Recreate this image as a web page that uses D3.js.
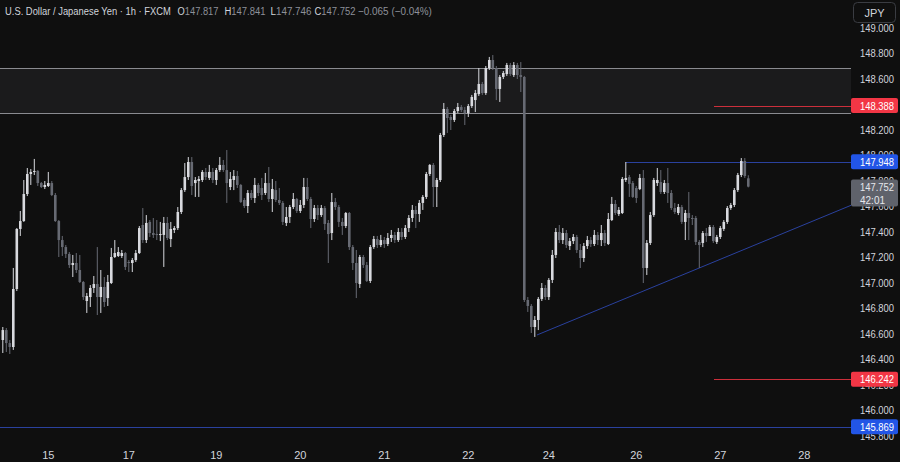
<!DOCTYPE html>
<html>
<head>
<meta charset="utf-8">
<script src="https://cdn.jsdelivr.net/npm/d3@7"></script>
<style>
  html, body { margin: 0; padding: 0; background: #0f0f0f; }
  svg { display: block; font-family: "Liberation Sans", Arial, sans-serif; }
</style>
</head>
<body>
<div id="chart"></div>
<script>
// hourly USD/JPY candles (index 0 = first bar on the left)
const open = [
  146.549,146.627,146.525,146.494,146.949,147.420,147.482,147.694,147.851,147.867,
  147.875,147.780,147.749,147.757,147.780,147.686,147.482,147.333,147.278,147.224,
  147.137,147.153,147.098,147.004,146.855,146.886,146.957,146.988,146.886,146.965,
  146.878,146.996,147.200,147.208,147.208,147.231,147.161,147.153,147.176,147.231,
  147.451,147.333,147.475,147.388,147.380,147.373,147.373,147.467,147.341,147.412,
  147.427,147.553,147.725,147.827,147.945,147.780,147.796,147.804,147.867,147.820,
  147.867,147.804,147.882,147.922,147.882,147.749,147.804,147.835,147.765,147.647,
  147.600,147.702,147.663,147.765,147.741,147.702,147.780,147.655,147.725,147.647,
  147.624,147.467,147.514,147.592,147.655,147.561,147.608,147.749,147.655,147.498,
  147.584,147.529,147.584,147.467,147.388,147.631,147.592,147.475,147.443,147.545,
  147.278,147.153,146.988,147.200,147.137,147.012,147.278,147.341,147.294,147.333,
  147.302,147.349,147.373,147.333,147.396,147.357,147.427,147.506,147.569,147.537,
  147.624,147.671,147.851,147.922,147.749,147.804,148.157,148.361,148.298,148.275,
  148.345,148.376,148.353,148.329,148.384,148.431,148.478,148.557,148.486,148.682,
  148.745,148.682,148.518,148.612,148.635,148.706,148.627,148.706,148.627,148.612,
  146.863,146.816,146.651,146.706,146.871,146.957,146.886,147.020,147.216,147.396,
  147.333,147.388,147.286,147.325,147.357,147.255,147.192,147.286,147.333,147.302,
  147.373,147.333,147.388,147.302,147.490,147.616,147.537,147.545,147.804,147.827,
  147.780,147.741,147.733,147.820,147.114,147.310,147.529,147.780,147.788,147.710,
  147.780,147.702,147.584,147.545,147.592,147.475,147.545,147.506,147.506,147.318,
  147.310,147.388,147.365,147.435,147.318,147.357,147.420,147.475,147.584,147.608,
  147.725,147.843,147.953,147.817
];
const high = [
  146.651,146.643,146.549,147.114,147.427,147.561,147.804,147.898,147.890,147.969,
  147.882,147.788,147.796,147.867,147.796,147.702,147.490,147.365,147.294,147.239,
  147.216,147.231,147.216,147.012,146.918,146.980,147.051,147.278,147.098,147.043,
  147.059,147.271,147.333,147.278,147.255,147.239,147.176,147.192,147.255,147.443,
  147.584,147.529,147.490,147.506,147.490,147.475,147.514,147.514,147.475,147.443,
  147.592,147.741,147.937,147.984,147.984,147.827,147.835,147.882,147.898,147.922,
  147.898,147.898,147.984,147.961,148.039,147.867,147.882,147.875,147.773,147.663,
  147.725,147.725,147.820,147.780,147.820,147.859,147.906,147.812,147.796,147.741,
  147.639,147.592,147.608,147.702,147.663,147.647,147.820,147.820,147.671,147.608,
  147.608,147.608,147.600,147.490,147.702,147.663,147.608,147.506,147.553,147.553,
  147.294,147.255,147.216,147.216,147.161,147.294,147.365,147.365,147.373,147.357,
  147.388,147.412,147.396,147.427,147.427,147.451,147.529,147.608,147.600,147.647,
  147.686,147.867,147.929,147.937,147.820,148.173,148.408,148.376,148.314,148.361,
  148.408,148.392,148.376,148.400,148.471,148.510,148.682,148.573,148.698,148.769,
  148.784,148.698,148.627,148.659,148.722,148.722,148.729,148.722,148.729,148.620,
  146.886,146.831,146.737,146.886,146.996,146.980,147.035,147.255,147.427,147.451,
  147.427,147.412,147.349,147.380,147.373,147.302,147.310,147.365,147.357,147.412,
  147.396,147.451,147.412,147.545,147.671,147.647,147.592,147.827,147.945,147.843,
  147.796,147.757,147.851,147.882,147.333,147.553,147.820,147.898,147.882,147.804,
  147.898,147.725,147.624,147.616,147.608,147.569,147.710,147.529,147.522,147.333,
  147.404,147.427,147.451,147.451,147.373,147.443,147.490,147.600,147.624,147.741,
  147.859,147.976,147.976,147.841
];
const low = [
  146.447,146.455,146.439,146.471,146.933,147.365,147.475,147.678,147.765,147.843,
  147.757,147.741,147.733,147.749,147.678,147.475,147.200,147.208,147.192,147.114,
  147.043,147.075,146.996,146.863,146.761,146.808,146.918,146.745,146.761,146.808,
  146.816,146.988,147.192,147.200,147.192,147.098,147.082,147.082,147.161,147.224,
  147.310,147.310,147.357,147.349,147.333,147.325,147.122,147.333,147.278,147.388,
  147.412,147.537,147.710,147.804,147.686,147.671,147.671,147.788,147.804,147.804,
  147.780,147.765,147.867,147.867,147.624,147.725,147.725,147.741,147.624,147.584,
  147.545,147.647,147.624,147.678,147.647,147.686,147.631,147.553,147.631,147.608,
  147.451,147.443,147.467,147.576,147.545,147.545,147.584,147.639,147.427,147.475,
  147.490,147.514,147.412,147.153,147.333,147.569,147.435,147.373,147.427,147.255,
  147.098,146.878,146.957,147.114,147.004,146.996,147.263,147.271,147.278,147.271,
  147.286,147.318,147.310,147.318,147.333,147.341,147.396,147.475,147.427,147.475,
  147.569,147.655,147.835,147.592,147.592,147.788,148.141,148.173,148.196,148.259,
  148.329,148.337,148.235,148.298,148.369,148.337,148.463,148.471,148.471,148.667,
  148.667,148.431,148.416,148.596,148.620,148.620,148.612,148.596,148.494,146.847,
  146.769,146.604,146.573,146.627,146.855,146.863,146.863,146.996,147.192,147.310,
  147.302,147.271,147.255,147.302,147.231,147.114,147.161,147.263,147.278,147.286,
  147.294,147.286,147.286,147.294,147.482,147.529,147.522,147.537,147.788,147.671,
  147.663,147.624,147.725,146.996,147.059,147.294,147.514,147.757,147.694,147.694,
  147.624,147.569,147.537,147.529,147.459,147.333,147.333,147.451,147.294,147.114,
  147.278,147.318,147.365,147.310,147.302,147.341,147.404,147.459,147.569,147.592,
  147.710,147.827,147.820,147.746
];
const close = [
  146.627,146.525,146.494,146.949,147.420,147.482,147.694,147.851,147.867,147.875,
  147.780,147.749,147.765,147.780,147.686,147.482,147.333,147.278,147.224,147.137,
  147.153,147.098,147.004,146.886,146.894,146.957,146.988,146.886,146.965,146.847,
  147.004,147.200,147.231,147.239,147.231,147.122,147.153,147.176,147.231,147.427,
  147.333,147.467,147.388,147.373,147.373,147.380,147.467,147.349,147.420,147.427,
  147.553,147.725,147.827,147.945,147.757,147.804,147.812,147.867,147.827,147.867,
  147.804,147.882,147.922,147.882,147.780,147.812,147.835,147.765,147.631,147.600,
  147.702,147.663,147.765,147.702,147.686,147.780,147.655,147.733,147.647,147.624,
  147.475,147.514,147.592,147.655,147.561,147.608,147.749,147.655,147.498,147.584,
  147.529,147.584,147.459,147.380,147.631,147.592,147.475,147.443,147.545,147.278,
  147.153,146.996,147.200,147.137,147.012,147.278,147.341,147.294,147.333,147.302,
  147.349,147.373,147.333,147.396,147.357,147.427,147.506,147.569,147.537,147.624,
  147.671,147.851,147.922,147.749,147.804,148.157,148.361,148.290,148.275,148.345,
  148.376,148.353,148.329,148.384,148.455,148.486,148.557,148.486,148.682,148.745,
  148.682,148.518,148.612,148.643,148.706,148.635,148.706,148.627,148.612,146.863,
  146.816,146.651,146.706,146.871,146.957,146.886,147.020,147.216,147.396,147.333,
  147.388,147.294,147.325,147.357,147.255,147.192,147.286,147.333,147.302,147.373,
  147.333,147.388,147.310,147.498,147.616,147.545,147.569,147.812,147.820,147.773,
  147.671,147.663,147.820,147.114,147.310,147.529,147.804,147.804,147.710,147.780,
  147.702,147.584,147.553,147.592,147.475,147.545,147.506,147.498,147.318,147.294,
  147.388,147.365,147.435,147.325,147.357,147.427,147.475,147.584,147.608,147.725,
  147.843,147.953,147.835,147.752
];

// time axis
const dayLabels = ["15", "17", "19", "20", "21", "22", "24", "26", "27", "28"];
const dayIndex = [13, 36, 61, 85, 109, 133, 156, 181, 205, 229];

// price axis
const priceTicks = ["145.800", "146.000", "146.200", "146.400", "146.600", "146.800",
  "147.000", "147.200", "147.400", "147.600", "147.800", "148.000", "148.200",
  "148.400", "148.600", "148.800", "149.000"];

// drawings
const zone = [148.33, 148.68];
const redLevels = [148.388, 146.242];
const blueLevels = [147.948, 145.869];
const blueStart = [178, 0];          // bar index where each blue line starts
const redStart = 203.2;
const trendIdx = [152.6, 199];
const trendPrice = [146.588, 147.114];

const title = "U.S. Dollar / Japanese Yen \u00b7 1h \u00b7 FXCM";
const ohlcNames = ["O", "H", "L", "C"];
const change = "\u22120.065 (\u22120.04%)";
const countdown = "42:01";

let w = 900,
    h = 462;
let plotRight = 851;

let upColor = "#d8d9de",
    downColor = "#676a73",
    textColor = "#d1d4dc",
    blueLine = "#2a419e",
    redLine = "#cc2f3b";

let x = d3.scaleLinear().domain([0, 229]).range([2.8, 804.3]);
let y = d3.scaleLinear().domain([145.8, 149.0]).range([435.5, 27.5]);

let svg = d3.select("#chart")
            .append("svg")
            .attr("width", w)
            .attr("height", h);

// squeeze a text horizontally so it spans a given width (the screen font is narrow)
function fit(sel, px, py, width) {
  let len = sel.node().getComputedTextLength();
  sel.attr("x", 0)
     .attr("y", 0)
     .attr("transform", "translate(" + px + "," + py + ") scale(" + (width / len) + ",1)");
  return sel;
}

svg.append("rect")
   .attr("width", w)
   .attr("height", h)
   .attr("fill", "#0f0f0f");

svg.append("defs")
   .append("clipPath")
   .attr("id", "plot")
   .append("rect")
   .attr("x", 0)
   .attr("y", 0)
   .attr("width", plotRight)
   .attr("height", 441);

let plot = svg.append("g").attr("clip-path", "url(#plot)");

// grey zone box
plot.append("rect")
    .attr("x", 0)
    .attr("y", y(zone[1]))
    .attr("width", plotRight)
    .attr("height", y(zone[0]) - y(zone[1]))
    .attr("fill", "#1b1b1c");

plot.selectAll(".zone-edge")
    .data(zone)
    .enter()
    .append("line")
    .attr("x1", 0)
    .attr("x2", plotRight)
    .attr("y1", d => Math.round(y(d)) + 0.5)
    .attr("y2", d => Math.round(y(d)) + 0.5)
    .attr("stroke", "#8a8b90")
    .attr("stroke-width", 1);

// horizontal levels
plot.selectAll(".red-level")
    .data(redLevels)
    .enter()
    .append("line")
    .attr("x1", x(redStart))
    .attr("x2", plotRight)
    .attr("y1", d => Math.round(y(d)) + 0.5)
    .attr("y2", d => Math.round(y(d)) + 0.5)
    .attr("stroke", redLine);

plot.selectAll(".blue-level")
    .data(blueLevels)
    .enter()
    .append("line")
    .attr("x1", (d, i) => blueStart[i] === 0 ? 0 : x(blueStart[i]))
    .attr("x2", plotRight)
    .attr("y1", d => Math.round(y(d)) + 0.5)
    .attr("y2", d => Math.round(y(d)) + 0.5)
    .attr("stroke", blueLine);

// trend line, extended to the axis
let tx1 = x(trendIdx[0]), ty1 = y(trendPrice[0]);
let tx2 = x(trendIdx[1]), ty2 = y(trendPrice[1]);
let tyR = ty1 + (ty2 - ty1) * (plotRight - tx1) / (tx2 - tx1);
plot.append("line")
    .attr("x1", tx1)
    .attr("y1", ty1)
    .attr("x2", plotRight)
    .attr("y2", tyR)
    .attr("stroke", blueLine);

// candles
let bars = d3.range(open.length).map(i => ({
  i: i, o: open[i], h: high[i], l: low[i], c: close[i]
}));

let candle = plot.selectAll(".candle")
    .data(bars)
    .enter()
    .append("g")
    .attr("class", "candle");

candle.append("line")
      .attr("x1", d => x(d.i))
      .attr("x2", d => x(d.i))
      .attr("y1", d => y(d.h))
      .attr("y2", d => y(d.l))
      .attr("stroke", d => d.c >= d.o ? upColor : downColor)
      .attr("stroke-width", 1);

candle.append("rect")
      .attr("x", d => x(d.i) - 1.3)
      .attr("width", 2.6)
      .attr("y", d => y(Math.max(d.o, d.c)))
      .attr("height", d => Math.max(1, Math.abs(y(d.o) - y(d.c))))
      .attr("fill", d => d.c >= d.o ? upColor : downColor);

// price axis labels
svg.selectAll(".tick-label")
   .data(priceTicks)
   .enter()
   .append("text")
   .attr("x", 860)
   .attr("y", d => y(+d) + 4)
   .attr("font-size", 11)
   .attr("textLength", 34)
   .attr("lengthAdjust", "spacingAndGlyphs")
   .attr("fill", textColor)
   .text(d => d);

// coloured price tags
let tags = redLevels.map(v => ({ v: v, fill: "#f23645" }))
  .concat(blueLevels.map(v => ({ v: v, fill: "#2255e6" })));

let tag = svg.selectAll(".tag")
   .data(tags)
   .enter()
   .append("g");

tag.append("rect")
   .attr("x", 851)
   .attr("y", d => y(d.v) - 7.5)
   .attr("width", 47)
   .attr("height", 15)
   .attr("rx", 2)
   .attr("fill", d => d.fill);

tag.append("text")
   .attr("x", 860)
   .attr("y", d => y(d.v) + 4)
   .attr("font-size", 11)
   .attr("textLength", 34)
   .attr("lengthAdjust", "spacingAndGlyphs")
   .attr("fill", "#ffffff")
   .text(d => d3.format(".3f")(d.v));

// last price tag with countdown
let last = close[close.length - 1];
svg.append("rect")
   .attr("x", 851)
   .attr("y", y(last) - 7)
   .attr("width", 47)
   .attr("height", 27)
   .attr("rx", 2)
   .attr("fill", "#5f626b");

svg.append("text")
   .attr("x", 860)
   .attr("y", y(last) + 4)
   .attr("font-size", 11)
   .attr("textLength", 34)
   .attr("lengthAdjust", "spacingAndGlyphs")
   .attr("fill", "#e6e7eb")
   .text(d3.format(".3f")(last));

svg.append("text")
   .attr("x", 860)
   .attr("y", y(last) + 17)
   .attr("font-size", 11)
   .attr("textLength", 25)
   .attr("lengthAdjust", "spacingAndGlyphs")
   .attr("fill", "#e6e7eb")
   .text(countdown);

// currency button
svg.append("rect")
   .attr("x", 853.5)
   .attr("y", 2.5)
   .attr("width", 42)
   .attr("height", 20)
   .attr("rx", 4)
   .attr("fill", "#0f0f0f")
   .attr("stroke", "#3a3c42");

svg.append("text")
   .attr("x", 874.5)
   .attr("y", 16.5)
   .attr("text-anchor", "middle")
   .attr("font-size", 11)
   .attr("fill", textColor)
   .text("JPY");

// time axis labels
svg.selectAll(".day")
   .data(dayLabels)
   .enter()
   .append("text")
   .attr("x", (d, i) => x(dayIndex[i]))
   .attr("y", 459)
   .attr("text-anchor", "middle")
   .attr("font-size", 11)
   .attr("fill", textColor)
   .text(d => d);

// header legend
let lastOHLC = [open, high, low, close].map(a => a[a.length - 1]);

fit(svg.append("text")
       .attr("font-size", 11)
       .attr("fill", textColor)
       .text(title), 5, 15, 166);

let nameX = [177.5, 224.5, 270.5, 314.5];
ohlcNames.forEach((n, i) => {
  let t = svg.append("text")
     .attr("font-size", 11);
  t.append("tspan").attr("fill", textColor).text(n);
  t.append("tspan").attr("fill", "#8d9099").text(d3.format(".3f")(lastOHLC[i]));
  fit(t, nameX[i], 15, 41);
});

fit(svg.append("text")
       .attr("font-size", 11)
       .attr("fill", "#8d9099")
       .text(change), 358, 15, 74);
</script>
</body>
</html>
